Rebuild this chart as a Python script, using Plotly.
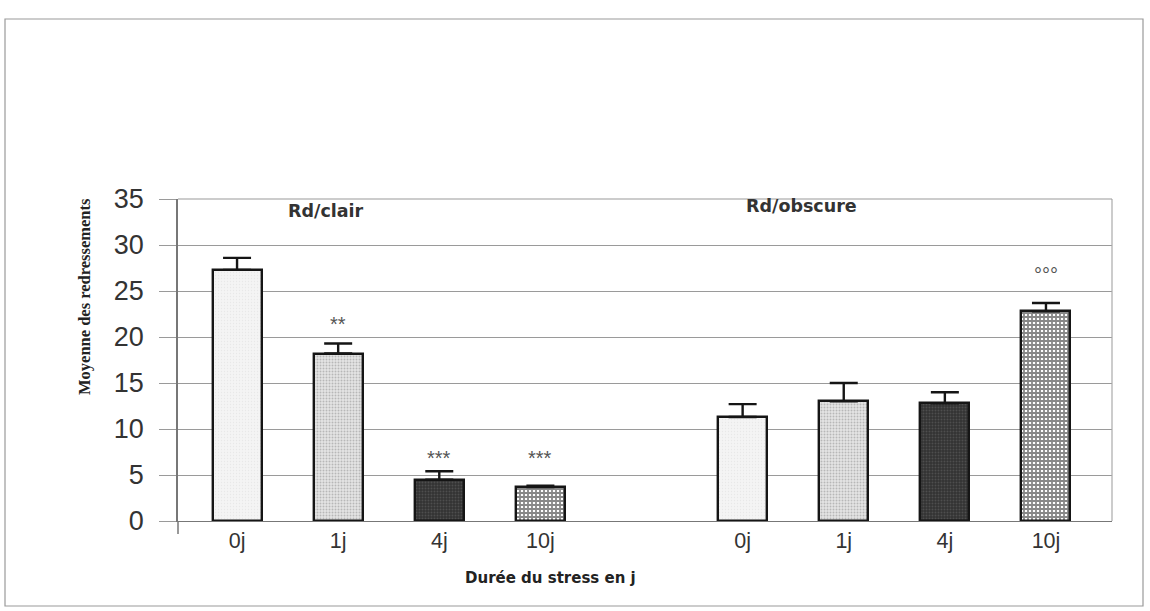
import plotly.graph_objects as go

# Data
groups = ["Rd/clair", "Rd/obscure"]
durations = ["0j", "1j", "4j", "10j"]
means_clair = [27.3, 18.2, 4.5, 3.7]
err_clair = [1.3, 1.1, 0.9, 0.15]
means_obscure = [11.3, 13.0, 12.8, 22.8]
err_obscure = [1.4, 2.0, 1.2, 0.9]
signif_clair = ["", "**", "***", "***"]
signif_obscure = ["", "", "", "°°°"]
# height (axis units) at which each significance mark is written
signif_y_clair = [None, 21.4, 6.9, 6.9]
signif_y_obscure = [None, None, None, 26.7]
y_ticks = [0, 5, 10, 15, 20, 25, 30, 35]

# Fill style for each stress duration
fills = [
    dict(color="#f1f1f1", pattern=dict(shape=".", fgcolor="#dcdcdc", bgcolor="#f4f4f4", size=3, solidity=0.2)),
    dict(color="#d6d6d6", pattern=dict(shape=".", fgcolor="#8a8a8a", bgcolor="#e4e4e4", size=3, solidity=0.35)),
    dict(color="#3a3a3a", pattern=dict(shape=".", fgcolor="#6a6a6a", bgcolor="#333333", size=3, solidity=0.3)),
    dict(color="#ffffff", pattern=dict(shape="+", fgcolor="#111111", bgcolor="#ffffff", size=4, solidity=0.7)),
]

W, H = 1150, 611
L, R, T, B = 178, 1112, 199, 521
gap = len(durations) + 1  # one empty slot between the two groups

fig = go.Figure()
all_means = [means_clair, means_obscure]
all_errs = [err_clair, err_obscure]
all_sig = [signif_clair, signif_obscure]
all_sig_y = [signif_y_clair, signif_y_obscure]

tickvals, ticktext = [], []
for g, grp in enumerate(groups):
    for i, d in enumerate(durations):
        xpos = g * gap + i
        tickvals.append(xpos)
        ticktext.append(d)
        fill = fills[i]
        fig.add_trace(go.Bar(
            x=[xpos], y=[all_means[g][i]], width=0.485,
            marker=dict(color=fill["color"], pattern=fill["pattern"],
                        line=dict(color="#151515", width=2.4)),
            error_y=dict(type="data", symmetric=False, array=[all_errs[g][i]],
                         arrayminus=[0], color="#151515", thickness=2.4, width=14),
            showlegend=False, hoverinfo="skip",
        ))
        sig = all_sig[g][i]
        if sig:
            fig.add_annotation(x=xpos, y=all_sig_y[g][i], text=sig, showarrow=False,
                               xref="x", yref="y", xanchor="center", yanchor="middle",
                               font=dict(family="Liberation Sans, Arial", size=20, color="#555555"))

# Group headers
group_centers = [0.88, 5.58]
header_y = [33.7, 34.2]
for grp, cx, hy in zip(groups, group_centers, header_y):
    fig.add_annotation(x=cx, y=hy, text="<b>%s</b>" % grp, showarrow=False,
                       xref="x", yref="y", xanchor="center", yanchor="middle",
                       font=dict(family="DejaVu Sans, Verdana", size=17.5, color="#333333"))

def px(xp):
    return (xp - L) / (R - L)

def py(yp):
    return (B - yp) / (B - T)

# Axis titles
fig.add_annotation(x=px(84), y=py(297), xref="paper", yref="paper",
                   xanchor="center", yanchor="middle",
                   text="<b>Moyenne des redressements</b>", textangle=-90, showarrow=False,
                   font=dict(family="Liberation Serif, Times New Roman", size=16.5, color="#222222"))
fig.add_annotation(x=px(550), y=py(578), xref="paper", yref="paper",
                   xanchor="center", yanchor="middle",
                   text="<b>Durée du stress en j</b>", showarrow=False,
                   font=dict(family="DejaVu Sans, Verdana", size=15, color="#222222"))

# Page frame
fig.add_shape(type="rect", xref="paper", yref="paper",
              x0=px(5), x1=px(1143), y0=py(606), y1=py(19),
              line=dict(color="#9a9a9a", width=1.2), layer="below")

fig.update_layout(
    width=W, height=H,
    margin=dict(l=L, r=W - R, t=T, b=H - B),
    paper_bgcolor="white", plot_bgcolor="white",
    bargap=0,
    xaxis=dict(range=[-0.584, 8.653], tickvals=tickvals, ticktext=ticktext,
               showgrid=False, zeroline=False, showline=True, linecolor="#777777",
               linewidth=1.2, mirror=False, ticks="", ticklen=0,
               tickfont=dict(family="Liberation Sans, Arial", size=21.5, color="#333333")),
    yaxis=dict(range=[0, 35], tickvals=y_ticks, showgrid=True, gridcolor="#9a9a9a",
               gridwidth=1, zeroline=False, showline=True, linecolor="#777777",
               linewidth=1.5, mirror=False, ticks="outside", ticklen=17,
               tickcolor="#9a9a9a", ticklabelstandoff=10,
               tickfont=dict(family="Liberation Sans, Arial", size=27, color="#333333")),
)

# Right and top border of the plot area, and the y axis running past the origin
fig.add_shape(type="line", xref="paper", yref="paper", x0=1, x1=1, y0=0, y1=1,
              line=dict(color="#aaaaaa", width=1.2))
fig.add_shape(type="line", xref="paper", yref="paper", x0=0, x1=1, y0=1, y1=1,
              line=dict(color="#999999", width=1.2))
fig.add_shape(type="line", xref="paper", yref="paper", x0=0, x1=0, y0=py(534), y1=0,
              line=dict(color="#777777", width=1.5))

fig.write_html("out.html")
